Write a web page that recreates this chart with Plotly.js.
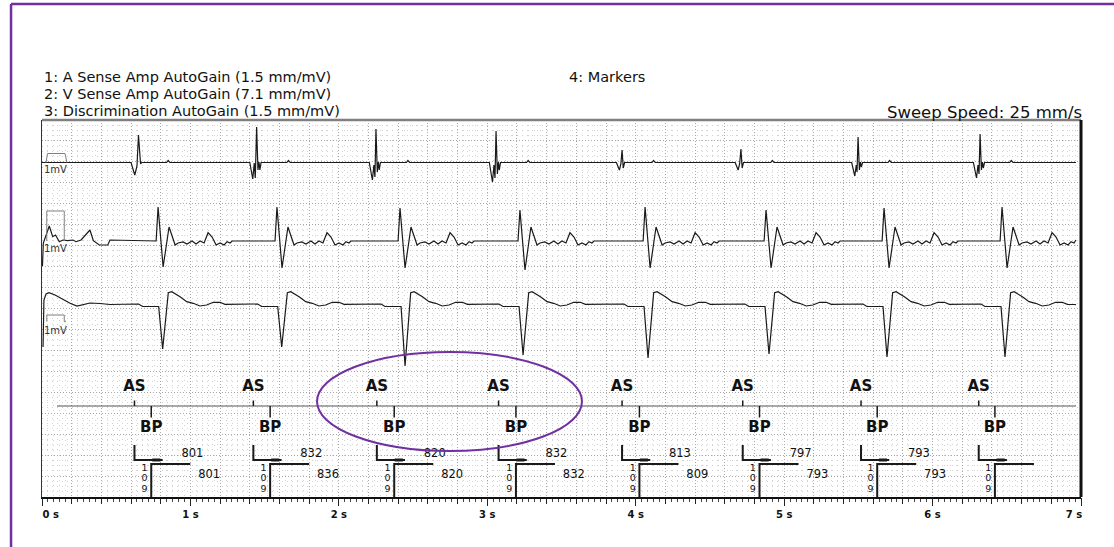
<!DOCTYPE html>
<html>
<head>
<meta charset="utf-8">
<script src="https://cdn.plot.ly/plotly-3.0.1.min.js"></script>
<style>html,body{margin:0;padding:0;background:#fff;}#chart{width:1114px;height:547px;}</style>
</head>
<body>
<div id="chart"></div>
<script>
// ---- data ----
// time axis in seconds, vertical values in grid units measured downward from the top of the strip
const secTicks = [0, 1, 2, 3, 4, 5, 6, 7];
const secLabels = ['\u00a0\u00a0\u00a0\u00a0\u00a00 s', '1 s', '2 s', '3 s', '4 s', '5 s', '6 s', '7 s\u00a0\u00a0\u00a0\u00a0'];

// marker channel
const asTimes = [0.623, 1.424, 2.256, 3.076, 3.908, 4.721, 5.518, 6.311];
const bpTimes = [0.736, 1.537, 2.373, 3.193, 4.025, 4.834, 5.627, 6.420];
const aaIntervals = ['801', '832', '820', '832', '813', '797', '793'];
const vvIntervals = ['801', '836', '820', '832', '809', '793', '793'];
const blankDigits = ['1', '0', '9'];

// channel 1: A sense
const ch1T = [0.000, 0.600, 0.625, 0.640, 0.650, 0.657, 0.664, 0.672, 0.840, 0.850, 0.862,
  1.400, 1.420, 1.430, 1.437, 1.446, 1.455, 1.462, 1.468, 1.476, 1.650, 1.660, 1.672,
  2.205, 2.226, 2.236, 2.243, 2.250, 2.259, 2.266, 2.272, 2.280, 2.455, 2.465, 2.477,
  3.014, 3.035, 3.045, 3.052, 3.059, 3.068, 3.075, 3.081, 3.089, 3.265, 3.275, 3.287,
  3.870, 3.890, 3.900, 3.908, 3.916, 3.925, 4.110, 4.120, 4.132,
  4.670, 4.690, 4.700, 4.709, 4.717, 4.726, 4.910, 4.920, 4.932,
  5.455, 5.476, 5.486, 5.491, 5.498, 5.507, 5.514, 5.520, 5.528, 5.700, 5.710, 5.722,
  6.275, 6.296, 6.306, 6.313, 6.320, 6.329, 6.336, 6.342, 6.350, 6.520, 6.530, 6.542, 6.966];
const ch1V = [42.5, 42.5, 55, 46, 15, 32, 44, 42.5, 42.5, 40.5, 42.5,
  42.5, 59, 43, 58, 7, 50, 42, 50, 42.5, 42.5, 40.5, 42.5,
  42.5, 60, 45, 57, 9, 52, 42, 50, 42.5, 42.5, 40.5, 42.5,
  42.5, 62, 45, 58, 11, 54, 42, 50, 42.5, 42.5, 40.5, 42.5,
  42.5, 50, 44, 30, 48, 42.5, 42.5, 40.5, 42.5,
  42.5, 50, 44, 29, 48, 42.5, 42.5, 40.5, 42.5,
  42.5, 56, 45, 52, 17, 50, 42, 47, 42.5, 42.5, 40.5, 42.5,
  42.5, 58, 45, 54, 14, 50, 42, 48, 42.5, 42.5, 40.5, 42.5, 42.5];

// channel 2: V sense
const ch2T = [0.003, 0.009, 0.049, 0.072, 0.091, 0.117, 0.141, 0.173, 0.209, 0.229, 0.263, 0.283, 0.323, 0.346, 0.386, 0.443, 0.458,
  0.769, 0.782, 0.816, 0.856, 0.897, 0.917, 0.950, 0.977, 1.011, 1.038, 1.065, 1.092, 1.119, 1.146, 1.173, 1.200, 1.227, 1.247, 1.267, 1.281,
  1.570, 1.583, 1.617, 1.657, 1.698, 1.718, 1.751, 1.778, 1.812, 1.839, 1.866, 1.893, 1.920, 1.947, 1.974, 2.001, 2.028, 2.048, 2.068, 2.082,
  2.399, 2.412, 2.446, 2.486, 2.527, 2.547, 2.580, 2.607, 2.641, 2.668, 2.695, 2.722, 2.749, 2.776, 2.803, 2.830, 2.857, 2.877, 2.897, 2.911,
  3.207, 3.220, 3.254, 3.294, 3.335, 3.355, 3.388, 3.415, 3.449, 3.476, 3.503, 3.530, 3.557, 3.584, 3.611, 3.638, 3.665, 3.685, 3.705, 3.719,
  4.050, 4.063, 4.097, 4.137, 4.178, 4.198, 4.231, 4.258, 4.292, 4.319, 4.346, 4.373, 4.400, 4.427, 4.454, 4.481, 4.508, 4.528, 4.548, 4.562,
  4.865, 4.878, 4.912, 4.952, 4.993, 5.013, 5.046, 5.073, 5.107, 5.134, 5.161, 5.188, 5.215, 5.242, 5.269, 5.296, 5.323, 5.343, 5.363, 5.377,
  5.660, 5.673, 5.707, 5.747, 5.788, 5.808, 5.841, 5.868, 5.902, 5.929, 5.956, 5.983, 6.010, 6.037, 6.064, 6.091, 6.118, 6.138, 6.158, 6.172,
  6.455, 6.468, 6.502, 6.542, 6.583, 6.603, 6.636, 6.663, 6.697, 6.724, 6.751, 6.778, 6.805, 6.832, 6.859, 6.886, 6.913, 6.933, 6.953, 6.966];
const ch2V = [146, 123, 106, 116.7, 115, 121.7, 120, 120.7, 120, 121.7, 120, 117, 110, 120.7, 125, 125, 120,
  121, 87, 147, 107, 125, 123, 122, 124, 121, 124, 121, 123, 112.7, 117, 125, 123, 125, 121.7, 123, 121,
  121, 87, 148, 107, 125, 123, 122, 124, 121, 124, 121, 123, 112.7, 117, 125, 123, 125, 121.7, 123, 121,
  121, 88, 148, 107, 125, 123, 122, 124, 121, 124, 121, 123, 112.7, 117, 125, 123, 125, 121.7, 123, 121,
  121, 90, 150, 107, 125, 123, 122, 124, 121, 124, 121, 123, 112.7, 117, 125, 123, 125, 121.7, 123, 121,
  121, 87, 148, 107, 125, 123, 122, 124, 121, 124, 121, 123, 112.7, 117, 125, 123, 125, 121.7, 123, 121,
  121, 90, 148, 107, 125, 123, 122, 124, 121, 124, 121, 123, 112.7, 117, 125, 123, 125, 121.7, 123, 121,
  121, 88, 148, 107, 125, 123, 122, 124, 121, 124, 121, 123, 112.7, 117, 125, 123, 125, 121.7, 123, 121,
  121, 87, 148, 107, 125, 123, 122, 124, 121, 124, 121, 123, 112.7, 117, 125, 123, 125, 121.7, 123, 120];

// channel 3: discrimination
const ch3T = [0.007, 0.013, 0.027, 0.047, 0.088, 0.135, 0.189, 0.236, 0.283, 0.323, 0.391, 0.458,
  0.651, 0.678, 0.746, 0.786, 0.813, 0.851, 0.874, 0.930, 0.975, 1.019, 1.064, 1.109, 1.154, 1.199, 1.233,
  1.453, 1.480, 1.548, 1.588, 1.615, 1.653, 1.676, 1.732, 1.777, 1.821, 1.866, 1.911, 1.956, 2.001, 2.035,
  2.284, 2.311, 2.379, 2.419, 2.446, 2.484, 2.507, 2.563, 2.608, 2.652, 2.697, 2.742, 2.787, 2.832, 2.866,
  3.079, 3.106, 3.174, 3.214, 3.241, 3.279, 3.302, 3.358, 3.403, 3.447, 3.492, 3.537, 3.582, 3.627, 3.661,
  3.921, 3.948, 4.016, 4.056, 4.083, 4.121, 4.144, 4.200, 4.245, 4.289, 4.334, 4.379, 4.424, 4.469, 4.503,
  4.736, 4.763, 4.831, 4.871, 4.898, 4.936, 4.959, 5.015, 5.060, 5.104, 5.149, 5.194, 5.239, 5.284, 5.318,
  5.531, 5.558, 5.626, 5.666, 5.693, 5.731, 5.754, 5.810, 5.855, 5.899, 5.944, 5.989, 6.034, 6.079, 6.113,
  6.326, 6.353, 6.421, 6.461, 6.488, 6.526, 6.549, 6.605, 6.650, 6.694, 6.739, 6.784, 6.829, 6.874, 6.908, 6.966];
const ch3V = [227, 180, 174, 172.7, 175, 179, 183.3, 186, 184, 183, 183.5, 184.5,
  184, 186.5, 186.5, 186.5, 229, 172.7, 171.7, 176.7, 181.7, 183.3, 186, 185, 182.3, 182.3, 184.3,
  184, 186.5, 186.5, 186.5, 227, 172.7, 171.7, 176.7, 181.7, 183.3, 186, 185, 182.3, 182.3, 184.3,
  184, 186.5, 186.5, 186.5, 246, 172.7, 171.7, 176.7, 181.7, 183.3, 186, 185, 182.3, 182.3, 184.3,
  184, 186.5, 186.5, 186.5, 235, 172.7, 171.7, 176.7, 181.7, 183.3, 186, 185, 182.3, 182.3, 184.3,
  184, 186.5, 186.5, 186.5, 238, 172.7, 171.7, 176.7, 181.7, 183.3, 186, 185, 182.3, 182.3, 184.3,
  184, 186.5, 186.5, 186.5, 234, 172.7, 171.7, 176.7, 181.7, 183.3, 186, 185, 182.3, 182.3, 184.3,
  184, 186.5, 186.5, 186.5, 237, 172.7, 171.7, 176.7, 181.7, 183.3, 186, 185, 182.3, 182.3, 184.3,
  184, 186.5, 186.5, 186.5, 237, 172.7, 171.7, 176.7, 181.7, 183.3, 186, 185, 182.3, 182.3, 184.3, 184.5];

// 1 mV calibration pulses
const cal1T = [0.027, 0.037, 0.155, 0.168];
const cal1V = [42.7, 33.5, 33.5, 42.7];
const cal2T = [0.032, 0.032, 0.150, 0.150];
const cal2V = [121, 91, 91, 121];
const cal3T = [0.032, 0.032, 0.150, 0.150, 0.162];
const cal3V = [201.7, 195, 195, 201.7, 201.7];

// highlighted region (ellipse)
const ellipseT = [1.853, 3.638];
const ellipseV = [232, 331];

// ---- layout constants ----
const FONT = 'DejaVu Sans';
const INK = '#1a1a1a';
const PURPLE = '#7030a0';
const ROW = 377 / 18;
const MARK_Y = 286, AS_TOP = 280.5, BP_BOT = 297.5, AS_LAB = 267, BP_LAB = 308.5;
const BR1_TOP = 325, BR1_Y = 340, BR2_Y = 344, BR_BOT = 377;
const NUM1_Y = 334, NUM2_Y = 355, DIG_Y = [348.5, 359, 369.5];

function segs(list) {
  const x = [], y = [];
  list.forEach(s => { x.push(...s[0], null); y.push(...s[1], null); });
  return {x, y};
}

const traces = [];
const wave = (x, y) => ({x, y, type: 'scatter', mode: 'lines', line: {color: INK, width: 1.2}, hoverinfo: 'skip'});
traces.push(wave(ch1T, ch1V), wave(ch2T, ch2V), wave(ch3T, ch3V));
[[cal1T, cal1V], [cal2T, cal2V], [cal3T, cal3V]].forEach(c => traces.push({x: c[0], y: c[1], type: 'scatter', mode: 'lines', line: {color: '#808080', width: 1}, hoverinfo: 'skip'}));

// marker baseline
traces.push({x: [0.101, 6.966], y: [MARK_Y, MARK_Y], type: 'scatter', mode: 'lines', line: {color: '#555', width: 1}, hoverinfo: 'skip'});
// AS / BP ticks
const tk = segs(asTimes.map(t => [[t, t], [AS_TOP, MARK_Y]]).concat(bpTimes.map(t => [[t, t], [MARK_Y, BP_BOT]])));
traces.push({x: tk.x, y: tk.y, type: 'scatter', mode: 'lines', line: {color: INK, width: 1.5}, hoverinfo: 'skip'});
// interval brackets
const br = segs(asTimes.map(t => [[t, t, t + 0.19], [BR1_TOP, BR1_Y, BR1_Y]]).concat(bpTimes.map(t => [[t + 0.263, t, t], [BR2_Y, BR2_Y, BR_BOT]])));
traces.push({x: br.x, y: br.y, type: 'scatter', mode: 'lines', line: {color: INK, width: 2}, hoverinfo: 'skip'});
const thick = segs(asTimes.map(t => [[t + 0.12, t + 0.175], [BR1_Y, BR1_Y]]));
traces.push({x: thick.x, y: thick.y, type: 'scatter', mode: 'lines', line: {color: INK, width: 3}, hoverinfo: 'skip'});

const txt = (x, y, text, size, bold) => ({x, y, text, type: 'scatter', mode: 'text', textposition: 'middle center',
  textfont: {family: FONT, size, color: '#111', weight: bold ? 'bold' : 'normal'}, hoverinfo: 'skip', cliponaxis: false});
traces.push(txt(asTimes, asTimes.map(() => AS_LAB), asTimes.map(() => 'AS'), 15, true));
traces.push(txt(bpTimes, bpTimes.map(() => BP_LAB), bpTimes.map(() => 'BP'), 15, true));
traces.push(txt(aaIntervals.map((v, i) => asTimes[i] + 0.39), aaIntervals.map(() => NUM1_Y), aaIntervals, 11.5, false));
traces.push(txt(vvIntervals.map((v, i) => bpTimes[i] + 0.39), vvIntervals.map(() => NUM2_Y), vvIntervals, 11.5, false));
blankDigits.forEach((d, k) => traces.push(txt(bpTimes.map(t => t - 0.045), bpTimes.map(() => DIG_Y[k]), bpTimes.map(() => d), 9.5, false)));
// carrier for the labelled seconds axis
traces.push({x: [0, 7], y: [null, null], xaxis: 'x2', type: 'scatter', mode: 'lines', hoverinfo: 'skip'});

const layout = {
  width: 1114, height: 547,
  margin: {l: 42, r: 33, t: 120, b: 50, pad: 0},
  paper_bgcolor: '#fff', plot_bgcolor: '#fff',
  showlegend: false,
  font: {family: FONT, color: '#111'},
  xaxis: {
    range: [0, 7], tickmode: 'linear', tick0: 0, dtick: 0.2,
    ticks: 'outside', ticklen: 5, tickwidth: 1, tickcolor: '#222',
    showticklabels: false, zeroline: false,
    showgrid: true, gridcolor: '#a8a8a8', griddash: '1px,2px', gridwidth: 1,
    showline: true, linecolor: '#111', linewidth: 1.5,
    minor: {dtick: 0.04, ticks: 'outside', ticklen: 3, tickcolor: '#444', showgrid: true, gridcolor: '#d2d2d2', griddash: '1px,4px', gridwidth: 1}
  },
  xaxis2: {
    range: [0, 7], overlaying: 'x', anchor: 'y', side: 'bottom',
    tickmode: 'array', tickvals: secTicks, ticktext: secLabels,
    ticks: 'outside', ticklen: 8, tickwidth: 1, tickcolor: '#222',
    tickfont: {family: FONT, size: 10, color: '#111', weight: 'bold'},
    showgrid: false, zeroline: false, showline: false
  },
  yaxis: {
    range: [377, 0], tickmode: 'linear', tick0: 0, dtick: ROW,
    showticklabels: false, ticks: '', zeroline: false,
    showgrid: true, gridcolor: '#a8a8a8', griddash: '1px,2px', gridwidth: 1,
    showline: true, linecolor: '#333', linewidth: 1.5,
    minor: {dtick: ROW / 4, showgrid: true, gridcolor: '#d2d2d2', griddash: '1px,4px', gridwidth: 1}
  },
  shapes: [
    {type: 'line', xref: 'paper', yref: 'paper', x0: 0, x1: 1, y0: 1, y1: 1, line: {color: '#808080', width: 2.5}},
    {type: 'line', xref: 'paper', yref: 'paper', x0: 1, x1: 1, y0: 0, y1: 1, line: {color: '#111', width: 3}},
    {type: 'circle', xref: 'x', yref: 'y', x0: ellipseT[0], x1: ellipseT[1], y0: ellipseV[0], y1: ellipseV[1], line: {color: PURPLE, width: 2}},
    {type: 'line', xref: 'paper', yref: 'paper', x0: -0.0298, x1: 1.04, y0: 1.3077, y1: 1.3077, line: {color: PURPLE, width: 2.5}},
    {type: 'line', xref: 'paper', yref: 'paper', x0: -0.0298, x1: -0.0298, y0: 1.3077, y1: -0.14, line: {color: PURPLE, width: 2.5}}
  ],
  annotations: [
    {text: '1: A Sense Amp AutoGain (1.5 mm/mV)', xref: 'paper', yref: 'paper', x: 0, y: 1.113, xanchor: 'left', yanchor: 'middle', showarrow: false, font: {family: FONT, size: 14.5, color: '#111'}},
    {text: '2: V Sense Amp AutoGain (7.1 mm/mV)', xref: 'paper', yref: 'paper', x: 0, y: 1.068, xanchor: 'left', yanchor: 'middle', showarrow: false, font: {family: FONT, size: 14.5, color: '#111'}},
    {text: '3: Discrimination AutoGain (1.5 mm/mV)', xref: 'paper', yref: 'paper', x: 0, y: 1.024, xanchor: 'left', yanchor: 'middle', showarrow: false, font: {family: FONT, size: 14.5, color: '#111'}},
    {text: '4: Markers', xref: 'paper', yref: 'paper', x: 0.505, y: 1.113, xanchor: 'left', yanchor: 'middle', showarrow: false, font: {family: FONT, size: 14.5, color: '#111'}},
    {text: 'Sweep Speed: 25 mm/s', xref: 'paper', yref: 'paper', x: 1.003, y: 1.019, xanchor: 'right', yanchor: 'middle', showarrow: false, font: {family: FONT, size: 16.5, color: '#111'}},
    {text: '1mV', xref: 'x', yref: 'y', x: 0, y: 49, xanchor: 'left', yanchor: 'middle', showarrow: false, font: {family: FONT, size: 10, color: '#333'}},
    {text: '1mV', xref: 'x', yref: 'y', x: 0, y: 128.5, xanchor: 'left', yanchor: 'middle', showarrow: false, font: {family: FONT, size: 10, color: '#333'}},
    {text: '1mV', xref: 'x', yref: 'y', x: 0, y: 210, xanchor: 'left', yanchor: 'middle', showarrow: false, font: {family: FONT, size: 10, color: '#333'}}
  ]
};

Plotly.newPlot('chart', traces, layout, {staticPlot: true, displayModeBar: false});
</script>
</body>
</html>
